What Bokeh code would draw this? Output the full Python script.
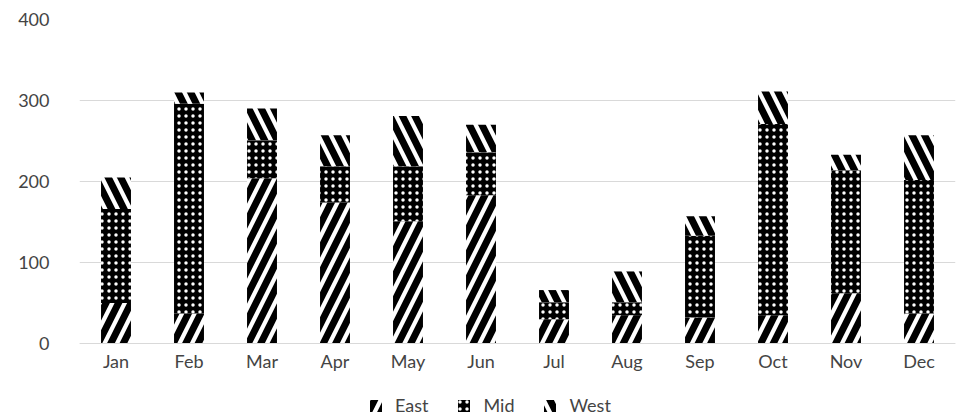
from bokeh.plotting import figure
from bokeh.models import Range1d, FixedTicker, Legend, LegendItem, ColumnDataSource
from bokeh.embed import file_html
from bokeh.resources import INLINE

months = ["Jan", "Feb", "Mar", "Apr", "May", "Jun", "Jul", "Aug", "Sep", "Oct", "Nov", "Dec"]
east = [50, 37, 204, 174, 151, 183, 30, 35, 32, 35, 62, 37]
mid = [116, 259, 47, 45, 68, 53, 21, 16, 101, 236, 152, 165]
west = [39, 14, 39, 38, 62, 34, 15, 38, 24, 40, 19, 55]
series = ["East", "Mid", "West"]
y_ticks = [0, 100, 200, 300, 400]

source = ColumnDataSource(dict(month=months, East=east, Mid=mid, West=west))

FONT = "Lato"
GREY = "#444444"

# The frame runs to the bottom edge; the space under zero holds the
# month names and the legend.
p = figure(x_range=months, y_range=Range1d(-95, 400), width=966, height=420,
           output_backend="svg", toolbar_location=None,
           min_border_left=79, min_border_right=11, min_border_top=19, min_border_bottom=0)

renderers = p.vbar_stack(series, x="month", width=0.41, source=source,
                         fill_color=["white", "black", "white"],
                         hatch_pattern=["/", ".", "\\"],
                         hatch_color=["black", "white", "black"],
                         hatch_scale=[25, 7, 25],
                         hatch_weight=[7, 3, 7],
                         line_color=None)

p.outline_line_color = None
p.background_fill_color = "white"
p.border_fill_color = "white"

p.xgrid.grid_line_color = None
p.ygrid.grid_line_color = "#d9d9d9"
p.ygrid.grid_line_width = 1.2

p.yaxis.ticker = FixedTicker(ticks=y_ticks)
p.yaxis.axis_line_color = None
p.yaxis.major_tick_line_color = None
p.yaxis.minor_tick_line_color = None
p.yaxis.major_label_standoff = 24
for ax in (p.xaxis, p.yaxis):
    ax.major_label_text_font = FONT
    ax.major_label_text_font_size = "18px"
    ax.major_label_text_color = GREY
p.xaxis.fixed_location = 0
p.xaxis.axis_line_color = "#d9d9d9"
p.xaxis.axis_line_width = 1.2
p.xaxis.major_tick_line_color = None
p.xaxis.major_label_standoff = 0

legend = Legend(items=[LegendItem(label=s, renderers=[r]) for s, r in zip(series, renderers)],
                orientation="horizontal", location=(289, 4),
                glyph_width=15, glyph_height=15, label_text_font=FONT,
                label_text_font_size="18px", label_text_color=GREY,
                spacing=28, label_standoff=12, background_fill_alpha=0,
                border_line_color=None, padding=0, margin=0)
p.add_layout(legend, "center")

open("out.html", "w").write(file_html(p, INLINE))
